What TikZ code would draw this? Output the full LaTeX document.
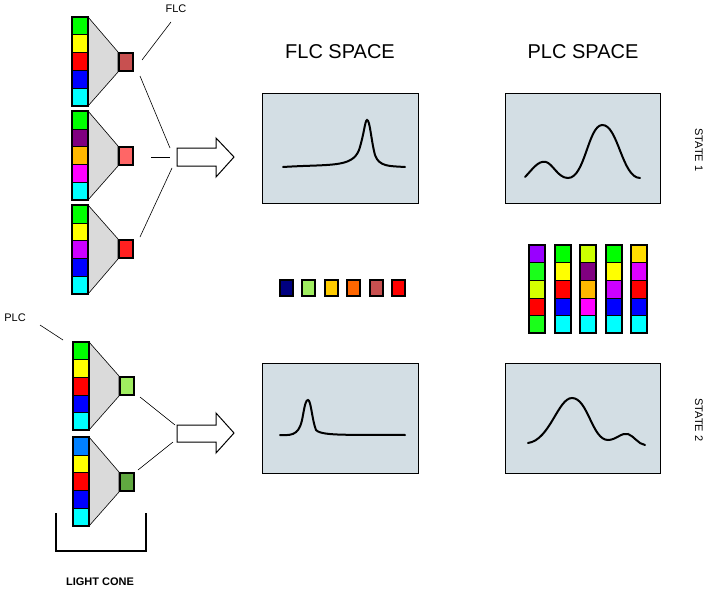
\documentclass[tikz,border=0pt]{standalone}
\usepackage{fontspec}
\setmainfont{Liberation Sans}
\begin{document}
\begin{tikzpicture}[x=1pt,y=-1pt,
  cell/.style={draw=black,line width=1pt},
  sq/.style={draw=black,line width=2pt,minimum width=14pt,minimum height=18pt,inner sep=0pt},
  panel/.style={draw=black,line width=0.8pt,fill=panelc},
  curve/.style={line width=2pt,line cap=round},
  thin/.style={line width=0.6pt},
  bigarrow/.style={draw=black,line width=1pt,fill=white}]
\definecolor{panelc}{HTML}{D3DEE4}
\definecolor{cone}{HTML}{DADADA}
\useasboundingbox (0,0) rectangle (706,591);
% stack drawing macro: x, ytop, height, colours
\newcommand{\mystack}[4]{%
  \foreach \c [count=\i from 0] in {#4}{%
    \definecolor{tmpc}{HTML}{\c}%
    \fill[tmpc] (#1,{#2+\i*#3/5}) rectangle ({#1+16},{#2+(\i+1)*#3/5});
    \draw[black,line width=0.6pt] (#1,{#2+\i*#3/5}) -- ({#1+16},{#2+\i*#3/5});
  }%
  \draw[black,line width=1.5pt] (#1,#2) rectangle ({#1+16},{#2+#3});
}
\newcommand{\mycone}[5]{% stripx, top, bottom, sqx, sqcentery
  \fill[cone,draw=black,thin] ({#1+16},#2) -- (#4,{#5-10}) -- (#4,{#5+10}) -- ({#1+16},#3) -- cycle;
}
% left stacks
\mycone{72}{17}{106}{118}{62}
\mycone{72}{111}{200}{118}{156}
\mycone{72}{205}{294}{118}{249}
\mycone{73}{342}{430}{119}{386}
\mycone{73}{437}{526}{119}{482}
\mystack{72}{17}{89}{00FF00,FFFF00,FF0000,0000FF,00FFFF}
\mystack{72}{111}{89}{00FF00,800080,FFB800,FF00FF,00FFFF}
\mystack{72}{205}{89}{00FF00,FFFF00,CC00FF,0000FF,00FFFF}
\mystack{73}{342}{88}{00FF00,FFFF00,FF0000,0000FF,00FFFF}
\mystack{73}{437}{89}{0080FF,FFFF00,FF0000,0000FF,00FFFF}
\definecolor{s1}{HTML}{C85050}\definecolor{s2}{HTML}{FF6666}\definecolor{s3}{HTML}{FF2020}
\definecolor{s4}{HTML}{A0EE60}\definecolor{s5}{HTML}{60A840}
\node[sq,fill=s1] (q1) at (126,62) {};
\node[sq,fill=s2] (q2) at (126,156) {};
\node[sq,fill=s3] (q3) at (126,249) {};
\node[sq,fill=s4] (q4) at (127,386) {};
\node[sq,fill=s5] (q5) at (127,482) {};
% labels
\node (flc) at (176,9) {\fontsize{11}{13}\selectfont FLC};
\node (plc) at (15,318) {\fontsize{11}{13}\selectfont PLC};
\coordinate (flcA) at (171,22); \coordinate (flcB) at (142,60);
\draw[thin] (flcA) -- (flcB);
\coordinate (plcA) at (40,325); \coordinate (plcB) at (63,340);
\draw[thin] (plcA) -- (plcB);
\coordinate (a1) at (140,76); \coordinate (b1) at (170,148);
\coordinate (a2) at (151,157); \coordinate (b2) at (170,157);
\coordinate (a3) at (140,237); \coordinate (b3) at (172,168);
\draw[thin] (a1) -- (b1); \draw[thin] (a2) -- (b2); \draw[thin] (a3) -- (b3);
\coordinate (a4) at (140,397); \coordinate (b4) at (175,425);
\coordinate (a5) at (138,470); \coordinate (b5) at (173,442);
\draw[thin] (a4) -- (b4); \draw[thin] (a5) -- (b5);
% big arrows
\draw[bigarrow] (177,148) -- (216,148) -- (216,138) -- (234,157) -- (216,177) -- (216,166) -- (177,166) -- cycle;
\draw[bigarrow] (177,425) -- (216,425) -- (216,413) -- (234,433) -- (216,453) -- (216,442) -- (177,442) -- cycle;
% bracket
\draw[line width=2pt] (56,513) -- (56,551) -- (146,551) -- (146,513);
\node[font=\bfseries\fontsize{11}{13}\selectfont] (lc) at (100,582) {LIGHT CONE};
% titles
\node[font=\fontsize{20}{24}\selectfont] (t1) at (340,52) {FLC SPACE};
\node[font=\fontsize{20}{24}\selectfont] (t2) at (583,52) {PLC SPACE};
\node[rotate=-90,font=\fontsize{11}{13}\selectfont] (st1) at (699,150) {STATE 1};
\node[rotate=-90,font=\fontsize{11}{13}\selectfont] (st2) at (699,420) {STATE 2};
% panels
\draw[panel] (262,93) rectangle (418,203);
\draw[panel] (505,93) rectangle (660,203);
\draw[panel] (262,363) rectangle (418,473);
\draw[panel] (505,363) rectangle (660,473);
% curves
\draw[curve] (283,167) .. controls (330,164) and (352,168) .. (359,150) .. controls (364,135) and (365,120) .. (367,120) .. controls (370,120) and (371,140) .. (375,155) .. controls (379,167) and (390,166) .. (405,167);
\draw[curve] (525,177) .. controls (532,170) and (538,160) .. (546,162) .. controls (553,164) and (558,178) .. (568,178) .. controls (585,178) and (588,126) .. (602,125) .. controls (618,124) and (622,178) .. (640,178);
\draw[curve] (280,435) .. controls (295,436) and (300,433) .. (303,415) .. controls (305,404) and (306,400) .. (308,400) .. controls (311,400) and (312,420) .. (316,430) .. controls (322,437) and (360,434) .. (405,435);
\draw[curve] (528,443) .. controls (550,440) and (558,398) .. (572,398) .. controls (588,398) and (592,440) .. (608,440) .. controls (616,440) and (622,432) .. (628,434) .. controls (634,436) and (638,444) .. (645,445);
% middle squares
\foreach \c [count=\i from 0] in {000080,A0EE60,FFCC00,FF6600,C85050,FF0000}{
  \definecolor{tmpc}{HTML}{\c}
  \node[sq,fill=tmpc,minimum width=13pt,minimum height=16pt] (m\i) at ({286+\i*22.5},288) {};
}
% right stacks
\mystack{529}{245}{88}{9900FF,1AFF1A,D4FF00,FF0000,1AFF1A}
\mystack{555}{245}{88}{00FF00,FFFF00,FF0000,0000FF,00FFFF}
\mystack{580}{245}{88}{CCFF00,800080,FFB800,FF00FF,00FFFF}
\mystack{606}{245}{88}{00FF00,FFFF00,CC00FF,0000FF,00FFFF}
\mystack{631}{245}{88}{FFDD00,DD00FF,FF0000,0000FF,00FFFF}
\end{tikzpicture}
\end{document}
